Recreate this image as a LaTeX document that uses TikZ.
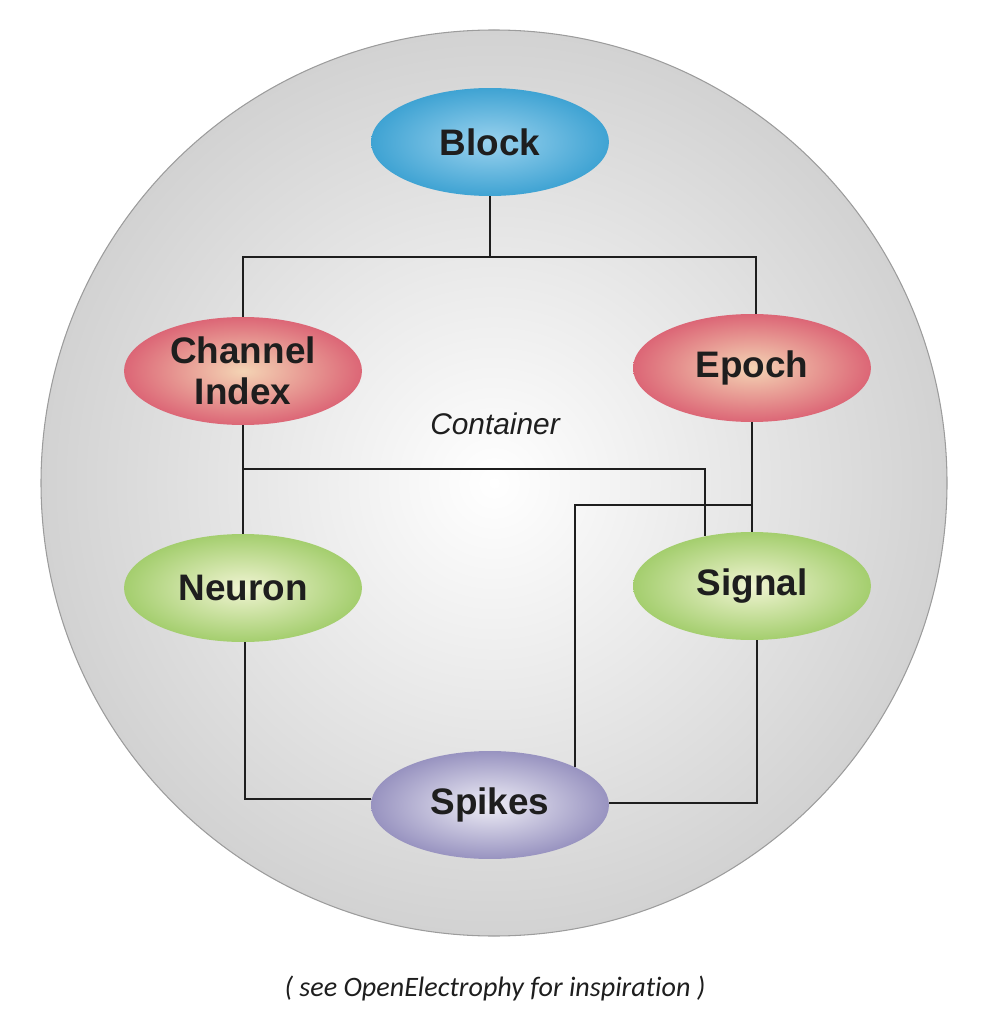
\documentclass[tikz,border=0pt]{standalone}
\usepackage{fontspec}
\setmainfont{Liberation Sans}
\newfontfamily\notefont[Ligatures={NoCommon,NoContextual}]{Carlito}
\usetikzlibrary{
  positioning,
  shapes.geometric,
  calc
}
\usepackage{xcolor}
\definecolor{ctgray}{HTML}{D2D2D2}
\definecolor{ctrim}{HTML}{9C9C9C}
\definecolor{blkin}{HTML}{9AD2EE}
\definecolor{blkout}{HTML}{3FA3D3}
\definecolor{redin}{HTML}{F4D4B4}
\definecolor{redout}{HTML}{DC6676}
\definecolor{grnin}{HTML}{F0F4D2}
\definecolor{grnout}{HTML}{A4CE6E}
\definecolor{purin}{HTML}{EEEDF6}
\definecolor{purout}{HTML}{9893C0}
\definecolor{wire}{HTML}{1E1E1E}

\begin{document}
\begin{tikzpicture}[
  x=0.02cm, y=-0.02cm,
  every node/.style={font=\fontsize{21}{23}\selectfont\bfseries, text=wire},
  entity/.style={ellipse, minimum width=4.76cm, minimum height=2.16cm,
    align=center, inner sep=0pt, shading=radial},
  link/.style={wire, line width=1.1pt}
]
  \useasboundingbox (0,0) rectangle (992,1026);

  % Container
  \shade[inner color=white, outer color=ctgray, draw=ctrim, line width=0.6pt]
    (494,483) circle[radius=453];
  \node[font=\fontsize{17}{20}\selectfont\itshape] (container) at (495,424) {Container};

  % Objects
  \node[entity, inner color=blkin, outer color=blkout] (block) at (490,142) {Block};
  \node[entity, inner color=redin, outer color=redout] (chanIdx) at (243,371) {Channel\\Index};
  \node[entity, inner color=redin, outer color=redout] (epoch) at (752,368) {Epoch};
  \node[entity, inner color=grnin, outer color=grnout] (neuron) at (243,588) {Neuron};
  \node[entity, inner color=grnin, outer color=grnout] (signal) at (752,586) {Signal};
  \node[entity, inner color=purin, outer color=purout] (spikes) at (490,805) {Spikes};

  % Links
  \draw[link] (block.south) -- (block.south |- 0,257) -| (chanIdx.north);
  \draw[link] (block.south |- 0,257) -| ([xshift=0.08cm]epoch.north);
  \draw[link] (chanIdx.south) -- (neuron.north);
  \draw[link] (chanIdx.south |- 0,469) -| (signal.133);
  \draw[link] (epoch.south) -- (signal.north);
  \draw[link] (epoch.south |- 0,505) -| (spikes.24);
  \draw[link] ([xshift=0.04cm]neuron.south) |- (spikes.177.6);
  \draw[link] ([xshift=0.1cm]signal.south) |- (spikes.1);

  % Note
  \node[font=\fontsize{16}{19}\selectfont\notefont\itshape] (note) at (495,988)
    {( see OpenElectrophy for inspiration )};
\end{tikzpicture}
\end{document}
